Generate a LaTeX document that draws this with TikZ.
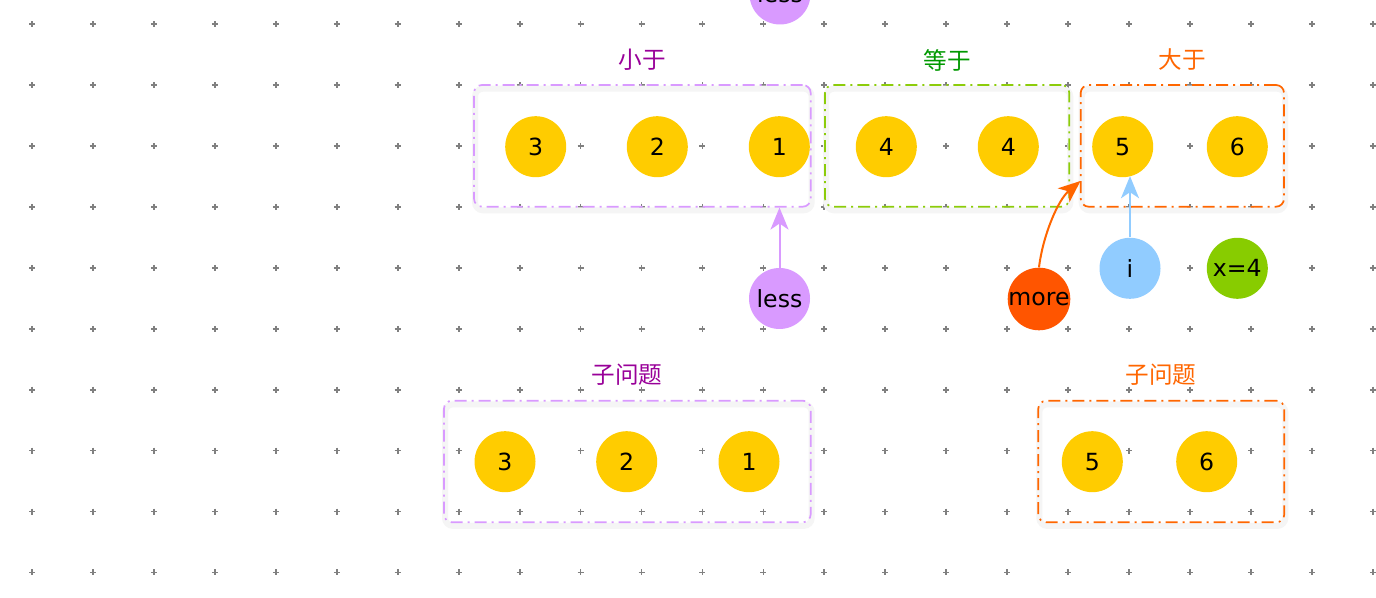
\documentclass[tikz,border=0pt]{standalone}
\usepackage{fontspec}
\setmainfont{DejaVu Sans}
\newfontfamily\cjk{Noto Sans CJK SC}
\usetikzlibrary{arrows.meta,shadows}
\definecolor{yel}{HTML}{FFCC00}
\definecolor{purp}{HTML}{D99AFF}
\definecolor{purptxt}{HTML}{990099}
\definecolor{grn}{HTML}{8CCC0A}
\definecolor{grntxt}{HTML}{009900}
\definecolor{orn}{HTML}{FF6600}
\definecolor{more}{HTML}{FF5500}
\definecolor{blu}{HTML}{91CCFF}
\definecolor{xgrn}{HTML}{88CC00}
\begin{document}
\begin{tikzpicture}[x=0.5pt,y=-0.5pt,
  ball/.style={circle,fill=#1,minimum size=30.5pt,inner sep=0pt,font=\fontsize{11.8}{13}\selectfont},
  grp/.style={draw=#1,line width=0.85pt,rounded corners=4pt,
    dash pattern=on 6pt off 2.5pt on 1pt off 2.5pt,inner sep=0pt,
    general shadow={draw=black!4,solid,line width=3pt,shadow xshift=0.5pt,shadow yshift=-1.8pt}},
  ttl/.style={text=#1,font=\cjk\fontsize{11.8}{13}\selectfont,inner sep=0pt},
  arr/.style={draw=#1,line width=1pt,-{Stealth[length=11pt,width=9pt,inset=3pt]}},
  gridmark/.style={draw=black!50,line width=0.9pt}
]
\useasboundingbox (0,0) rectangle (1376,598);
\clip (0,0) rectangle (1376,598);
\fill[white] (0,0) rectangle (1376,598);
% dotted grid
\foreach \i in {0,...,22}{\foreach \j in {0,...,9}{
  \draw[gridmark] ({32+60.95*\i-3},{24.3+60.9*\j}) -- ++(6,0)
                  ({32+60.95*\i},{24.3+60.9*\j-3}) -- ++(0,6);
}}
% group boxes
\node[grp=purp,minimum width=168.35pt,minimum height=60.85pt] (lbox) at (642.35,145.85) {};
\node[grp=grn,minimum width=122.15pt,minimum height=60.85pt] (ebox) at (947.15,145.85) {};
\node[grp=orn,minimum width=101.65pt,minimum height=60.85pt] (gbox) at (1182.35,145.85) {};
\node[grp=purp,minimum width=183.35pt,minimum height=60.8pt] (slbox) at (627.35,461.5) {};
\node[grp=orn,minimum width=123pt,minimum height=60.8pt] (sgbox) at (1161.3,461.5) {};
% titles
\node[ttl=purptxt] (tl) at (642,60) {小于};
\node[ttl=grntxt] (te) at (947,60) {等于};
\node[ttl=orn] (tg) at (1182,60) {大于};
\node[ttl=purptxt] (tsl) at (627,375) {子问题};
\node[ttl=orn] (tsg) at (1161,375) {子问题};
% top row
\node[ball=yel] (a3) at (535.7,146.7) {3};
\node[ball=yel] (a2) at (657.3,146.7) {2};
\node[ball=yel] (a1) at (779.3,146.7) {1};
\node[ball=yel] (a4) at (886.3,146.7) {4};
\node[ball=yel] (b4) at (1008.3,146.7) {4};
\node[ball=yel] (a5) at (1122.7,146.7) {5};
\node[ball=yel] (a6) at (1237.3,146.7) {6};
% bottom row
\node[ball=yel] (s3) at (505,461.7) {3};
\node[ball=yel] (s2) at (626.7,461.7) {2};
\node[ball=yel] (s1) at (749,461.7) {1};
\node[ball=yel] (s5) at (1092.3,461.7) {5};
\node[ball=yel] (s6) at (1206.7,461.7) {6};
% pointers
\node[ball=purp] (lesstop) at (780,-6) {less};
\node[ball=purp] (less) at (779.5,298.5) {less};
\node[ball=more] (more) at (1039,299) {more};
\node[ball=blu] (i) at (1130,268.3) {i};
\node[ball=xgrn] (x) at (1237.3,268.3) {x=4};
\coordinate (gin) at (1080.5,181);
\coordinate (iend) at (1130,176.2);
% connectors
\draw[arr=purp] (less) -- (less |- lbox.south);
\draw[arr=blu] (i) -- (iend);
\draw[arr=orn] (more.north) .. controls (1043,235) and (1058,200) .. (gin);
\end{tikzpicture}
\end{document}
